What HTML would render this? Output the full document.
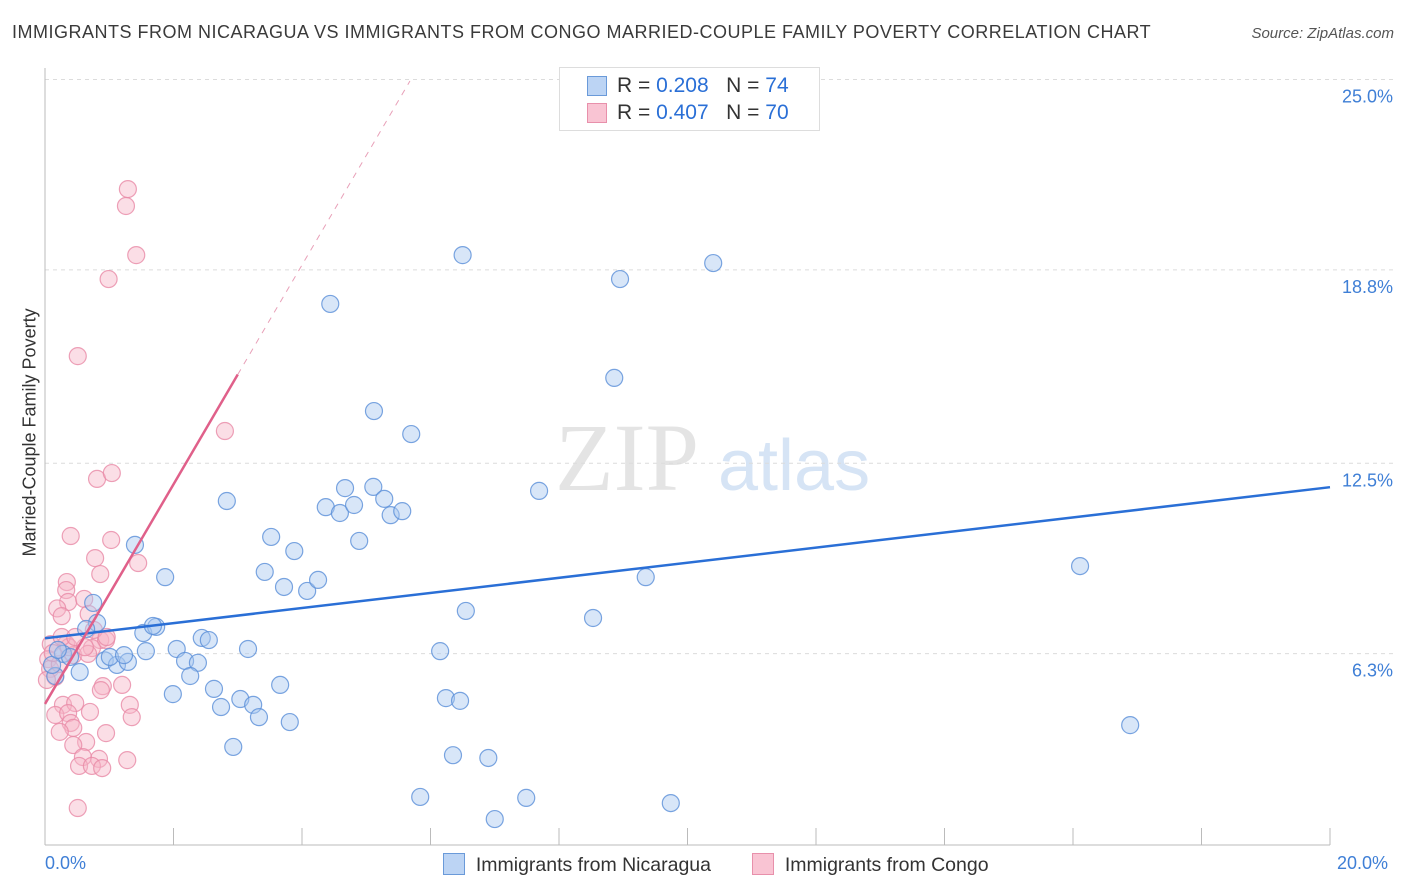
<!DOCTYPE html>
<html><head><meta charset="utf-8"><style>
body{margin:0;background:#fff;font-family:"Liberation Sans",sans-serif;}
#wrap{position:relative;width:1406px;height:892px;overflow:hidden;}
.t{position:absolute;white-space:nowrap;}
</style></head><body>
<div id="wrap">
<div class="t" style="left:12px;top:22px;font-size:18px;letter-spacing:0.5px;color:#3a3a3a;">IMMIGRANTS FROM NICARAGUA VS IMMIGRANTS FROM CONGO MARRIED-COUPLE FAMILY POVERTY CORRELATION CHART</div>
<div class="t" style="right:12px;top:25px;font-size:15px;color:#555;font-style:italic;">Source: ZipAtlas.com</div>
<svg id="svg" width="1406" height="892" style="position:absolute;left:0;top:0"></svg>
</div>
<script>
const yTicks=[25.0,18.8,12.5,6.3];
const yTickLabels=["25.0%","18.8%","12.5%","6.3%"];
const nicX=[6.5,10.4,8.95,4.44,8.86,5.12,5.7,2.83,4.67,5.11,5.28,4.37,4.59,4.81,5.38,5.56,7.69,3.52,3.88,4.89,1.4,3.42,3.72,4.08,4.25,1.87,9.35,16.11,6.55,8.53,0.75,0.81,0.64,1.53,1.73,1.68,2.44,2.55,2.05,1.57,3.16,6.15,0.28,0.39,0.93,1.12,1.29,1.01,1.23,2.18,2.38,2.26,0.54,0.16,1.99,2.63,3.04,3.24,2.74,3.33,3.66,3.81,6.24,6.46,16.89,2.93,6.35,6.9,5.84,7.49,9.74,7.0,0.11,0.2];
const nicY=[19.28,19.02,18.5,17.69,15.28,14.2,13.45,11.27,11.69,11.73,11.34,11.07,10.88,11.14,10.81,10.94,11.6,10.1,9.64,9.97,9.84,8.96,8.47,8.34,8.7,8.79,8.79,9.15,7.69,7.46,7.95,7.3,7.1,6.97,7.17,7.2,6.81,6.74,6.45,6.38,6.45,6.38,6.29,6.19,6.08,5.93,6.03,6.19,6.25,6.06,6.0,5.57,5.7,5.57,4.98,5.15,4.82,4.63,4.56,4.23,5.28,4.07,4.85,4.76,3.97,3.26,2.99,2.9,1.63,1.6,1.43,0.91,5.93,6.42];
const conX=[1.29,1.26,1.42,0.99,0.51,2.8,0.81,1.04,0.4,1.03,1.45,0.78,0.86,0.34,0.33,0.36,0.61,0.19,0.26,0.68,0.86,0.95,0.73,0.33,0.44,0.67,0.09,0.05,0.08,0.16,0.23,1.2,0.9,0.87,1.32,1.35,0.28,0.47,0.7,0.16,0.36,0.4,0.44,0.23,0.95,0.64,0.44,0.84,0.59,0.53,1.28,0.73,0.89,0.51,0.37,0.12,0.03,0.26,0.62,0.47,0.76,0.96];
const conY=[21.43,20.88,19.28,18.5,15.99,13.55,11.99,12.18,10.13,10.0,9.25,9.41,8.89,8.63,8.37,7.98,8.08,7.77,7.52,7.59,6.74,6.74,6.48,6.61,6.25,6.29,6.61,6.12,5.8,5.54,5.96,5.28,5.24,5.11,4.63,4.23,4.63,4.69,4.4,4.3,4.36,4.04,3.88,3.75,3.71,3.42,3.32,2.87,2.93,2.64,2.83,2.64,2.57,1.27,6.51,6.32,5.44,6.84,6.51,6.84,7.07,6.84];
const nicLine=[[0,6.8],[20,11.72]];
const conLine=[[0,4.66],[3.0,15.39]];
const conDash=[[3.0,15.39],[5.68,24.95]];
const X=v=>45+v*64.25, Y=v=>847-v*30.7;
const svg=document.getElementById('svg');
function mk(tag,attrs){const e=document.createElementNS('http://www.w3.org/2000/svg',tag);for(const k in attrs)e.setAttribute(k,attrs[k]);svg.appendChild(e);return e;}
let w=mk('text',{x:555,y:490,'font-size':96,'font-family':'Liberation Serif,serif',fill:'#e4e4e4'});w.textContent='ZIP';

w=mk('text',{x:718,y:490,'font-size':72,'font-family':'Liberation Sans,sans-serif',fill:'#d6e4f5'});w.textContent='atlas';

yTicks.forEach((t,i)=>{
 const g=mk('line',{x1:45,x2:1393,y1:Y(t),y2:Y(t),stroke:'#dcdcdc','stroke-dasharray':'4,4'});
 
 const l=mk('text',{x:1393,y:Y(t)+23,'text-anchor':'end','font-size':18,fill:'#3f7fd6'});l.textContent=yTickLabels[i];
 
});
let a=mk('line',{x1:45,x2:45,y1:68,y2:845,stroke:'#bbb'});
a=mk('line',{x1:45,x2:1330,y1:845,y2:845,stroke:'#bbb'});
for(let i=0;i<=10;i++){const t=mk('line',{x1:X(i*2),x2:X(i*2),y1:828,y2:845,stroke:'#bbb'});}
function pts(xs,ys,fill,stroke,name){xs.forEach((x,i)=>{const c=mk('circle',{cx:X(x),cy:Y(ys[i]),r:8.5,fill:fill,'fill-opacity':0.45,stroke:stroke,'stroke-opacity':0.8,'stroke-width':1.2});});}
pts(conX,conY,'#f7b6c8','#e98aa6','congo-point');
pts(nicX,nicY,'#a8c8f0','#5a8fd8','nicaragua-point');
let L=mk('line',{x1:X(nicLine[0][0]),y1:Y(nicLine[0][1]),x2:X(nicLine[1][0]),y2:Y(nicLine[1][1]),stroke:'#2a6fd6','stroke-width':2.5});

L=mk('line',{x1:X(conLine[0][0]),y1:Y(conLine[0][1]),x2:X(conLine[1][0]),y2:Y(conLine[1][1]),stroke:'#e0608a','stroke-width':2.5});

L=mk('line',{x1:X(conDash[0][0]),y1:Y(conDash[0][1]),x2:X(conDash[1][0]),y2:Y(conDash[1][1]),stroke:'#e8a0b8','stroke-width':1,'stroke-dasharray':'6,6'});

</script>
<div class="t" style="left:45px;top:853px;font-size:18px;color:#3f7fd6;">0.0%</div>
<div class="t" style="left:1337px;top:853px;font-size:18px;color:#3f7fd6;">20.0%</div>
<div class="t" style="left:-70px;top:446px;font-size:18px;color:#333;transform:rotate(-90deg);width:200px;text-align:center;">Married-Couple Family Poverty</div>
<div style="position:absolute;left:559px;top:67px;width:259px;height:62px;border:1px solid #ddd;background:#fff;font-size:21px;">
 <div style="position:absolute;left:27px;top:8px;width:18px;height:18px;background:#bcd4f4;border:1px solid #6a9ad9;"></div>
 <div class="t" style="left:57px;top:6px;color:#333;">R = <span style="color:#2a6fd6">0.208</span>&nbsp;&nbsp;&nbsp;N = <span style="color:#2a6fd6">74</span></div>
 <div style="position:absolute;left:27px;top:35px;width:18px;height:18px;background:#f9c4d3;border:1px solid #e890ab;"></div>
 <div class="t" style="left:57px;top:33px;color:#333;">R = <span style="color:#2a6fd6">0.407</span>&nbsp;&nbsp;&nbsp;N = <span style="color:#2a6fd6">70</span></div>
</div>
<div style="position:absolute;left:443px;top:853px;font-size:19.5px;color:#333;">
 <span style="display:inline-block;width:20px;height:20px;background:#bcd4f4;border:1px solid #6a9ad9;vertical-align:-4px;"></span>&nbsp; Immigrants from Nicaragua</div>
<div style="position:absolute;left:752px;top:853px;font-size:19.5px;color:#333;">
 <span style="display:inline-block;width:20px;height:20px;background:#f9c4d3;border:1px solid #e890ab;vertical-align:-4px;"></span>&nbsp; Immigrants from Congo</div>
</body></html>
